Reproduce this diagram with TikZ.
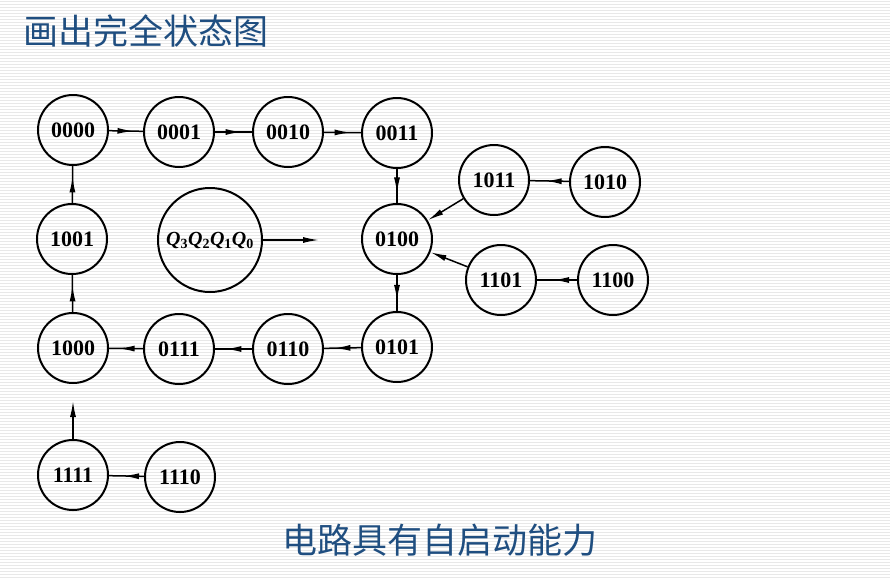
\documentclass[tikz,border=0pt]{standalone}
\usepackage{fontspec}
\setmainfont{Liberation Serif}
\newfontfamily\cjk{Noto Sans CJK SC}
\usetikzlibrary{arrows.meta,decorations.markings}
\definecolor{ttl}{HTML}{1F4E80}
\tikzset{
  st/.style={circle,draw,line width=2pt,minimum size=70pt,inner sep=0pt,font=\bfseries\fontsize{22}{22}\selectfont},
  tr/.style={line width=1.5pt,postaction={decorate},decoration={markings,mark=at position #1 with {\arrow{Latex[length=16pt,width=6pt]}}}},
  tr/.default=0.72,
  tre/.style={line width=1.5pt,-{Latex[length=16pt,width=6pt]}}
}
\begin{document}
\begin{tikzpicture}[x=1pt,y=-1pt]
\useasboundingbox (0,0) rectangle (890,579);
\fill[white] (0,0) rectangle (890,579);
\foreach \i in {0,...,192} \draw[gray!18,line width=0.6pt] (0,{\i*3+1.5}) -- (890,{\i*3+1.5});
\node[anchor=west,text=ttl,font=\cjk\fontsize{35}{35}\selectfont] (title) at (20,31) {画出完全状态图};
\node[text=ttl,font=\cjk\fontsize{35}{35}\selectfont] (foot) at (440,540) {电路具有自启动能力};
\node[st] (n0000) at (73,130) {0000};
\node[st] (n0001) at (179,132) {0001};
\node[st] (n0010) at (288,132) {0010};
\node[st] (n0011) at (397,133) {0011};
\node[st] (n1001) at (72,239) {1001};
\node[st,minimum size=104pt,font=\itshape\bfseries\fontsize{20}{20}\selectfont] (q) at (210,240) {Q\textsubscript{\upshape 3}Q\textsubscript{\upshape 2}Q\textsubscript{\upshape 1}Q\textsubscript{\upshape 0}};
\node[st] (n0100) at (397,239) {0100};
\node[st] (n1011) at (494,180) {1011};
\node[st] (n1010) at (605,182) {1010};
\node[st] (n1101) at (501,280) {1101};
\node[st] (n1100) at (613,280) {1100};
\node[st] (n1000) at (73,348) {1000};
\node[st] (n0111) at (179,349) {0111};
\node[st] (n0110) at (288,349) {0110};
\node[st] (n0101) at (397,347) {0101};
\node[st] (n1111) at (73,475) {1111};
\node[st] (n1110) at (180,477) {1110};
\coordinate (qend) at (319,240);
\coordinate (fend) at (73,401);
\draw[tr] (n0000) -- (n0001);
\draw[tr] (n0001) -- (n0010);
\draw[tr] (n0010) -- (n0011);
\draw[tr] (n0011) -- (n0100);
\draw[tr] (n0100) -- (n0101);
\draw[tr] (n0101) -- (n0110);
\draw[tr] (n0110) -- (n0111);
\draw[tr] (n0111) -- (n1000);
\draw[tr] (n1000) -- (n1001);
\draw[tr] (n1001) -- (n0000);
\draw[tr=0.6] (n1010) -- (n1011);
\draw[tr=0.6] (n1100) -- (n1101);
\draw[tr=0.6] (n1110) -- (n1111);
\draw[tre] (n1011) -- (n0100);
\draw[tre] (n1101) -- (n0100);
\draw[tre] (q) -- (qend);
\draw[tre] (n1111) -- (fend);
\end{tikzpicture}
\end{document}
